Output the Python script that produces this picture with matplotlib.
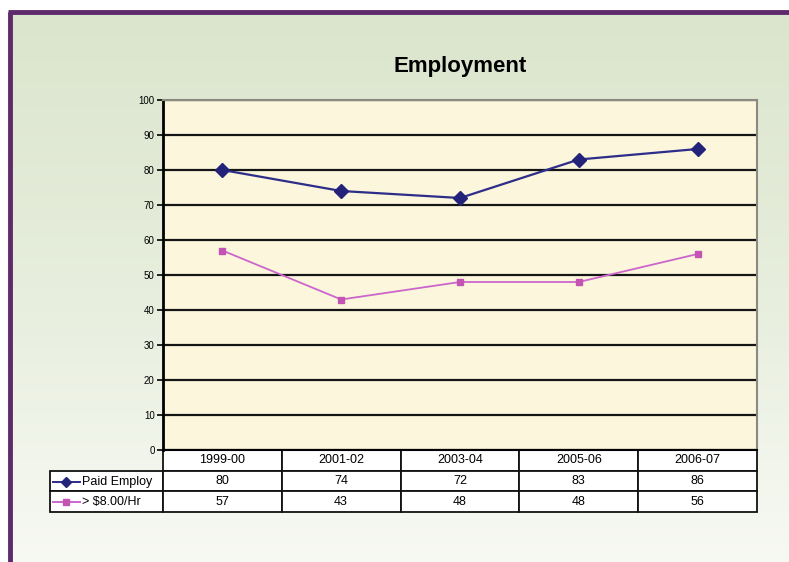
import numpy as np
import matplotlib
matplotlib.use("Agg")
import matplotlib.pyplot as plt
from matplotlib.colors import LinearSegmentedColormap

plt.rcParams['font.family'] = ['Liberation Sans', 'DejaVu Sans']

periods = ['1999-00', '2001-02', '2003-04', '2005-06', '2006-07']
paid_employ = [80, 74, 72, 83, 86]
over_8 = [57, 43, 48, 48, 56]
series_names = ['Paid Employ', '> $8.00/Hr']

W, H = 789, 562
fig = plt.figure(figsize=(W / 100, H / 100), dpi=100)
fig.patch.set_facecolor('white')

# background panel: green fading to white, purple frame on top/left
bg = fig.add_axes([0, 0, 1, 1], zorder=-5)
bg.set_xlim(0, W)
bg.set_ylim(H, 0)
bg.axis('off')
grad = np.linspace(0, 1, 256).reshape(-1, 1)
cmap = LinearSegmentedColormap.from_list('panel', ['#dbe5cd', '#e7eedd', '#f7f9f3'])
bg.imshow(grad, cmap=cmap, extent=[12, W, H, 14], aspect='auto')
bg.plot([10, 10], [12, H], color='#5e2a6b', lw=3.5, solid_capstyle='butt')
bg.plot([8, W], [12, 12], color='#5e2a6b', lw=3.5, solid_capstyle='butt')

ax = fig.add_axes([163 / W, 1 - 450 / H, 594 / W, 350 / H])
ax.set_facecolor('#fcf6dc')
x = np.arange(len(periods))
ax.plot(x, paid_employ, color='#2d2d8a', lw=1.6, marker='D', ms=7,
        mfc='#23237a', mec='#23237a', zorder=3)
ax.plot(x, over_8, color='#cc66cc', lw=1.3, marker='s', ms=4.5,
        mfc='#c454b4', mec='#c454b4', zorder=3)
ax.set_xlim(-0.5, len(periods) - 0.5)
ax.set_ylim(0, 100)
ax.set_yticks(range(0, 101, 10))
ax.set_xticks([])
ax.tick_params(axis='y', labelsize=7, length=4, width=1.2, direction='out', pad=2)
ax.grid(axis='y', color='#151515', lw=1.6)
ax.set_axisbelow(True)
for s in ['top', 'right']:
    ax.spines[s].set_color('#8a8a80')
    ax.spines[s].set_linewidth(1.5)
ax.spines['left'].set_linewidth(2)
ax.spines['bottom'].set_linewidth(1.5)

ax.set_title('Employment', fontsize=16, fontweight='bold', pad=20)

# data table under the plot
label_w = 113 / 594
tbl_h = 62 / 350
cell_text = [[''] + [str(v) for v in paid_employ],
             [''] + [str(v) for v in over_8]]
tbl = ax.table(cellText=cell_text, colLabels=[''] + periods,
               colWidths=[113 / 707] + [119 / 707] * 5,
               cellLoc='center',
               bbox=[-label_w, -tbl_h, 1 + label_w, tbl_h])
tbl.auto_set_font_size(False)
tbl.set_fontsize(9)
for (r, c), cell in tbl.get_celld().items():
    cell.set_linewidth(1.3)
    cell.set_edgecolor('#111111')
    cell.set_facecolor('white')
tbl[0, 0].visible_edges = ''
tbl[0, 0].set_facecolor('none')

# row labels with line/marker keys
row_y = [-32 / 350, -52 / 350]
styles = [('#2d2d8a', 'D', 5, '#23237a'), ('#cc66cc', 's', 4.5, '#c454b4')]
for name, yy, (lc, mk, ms, mc) in zip(series_names, row_y, styles):
    ax.plot([(53 - 163) / 594, (80 - 163) / 594], [yy, yy], transform=ax.transAxes,
            color=lc, lw=1.4, clip_on=False, zorder=5)
    ax.plot([(66 - 163) / 594], [yy], transform=ax.transAxes, marker=mk, ms=ms,
            color=mc, clip_on=False, zorder=6)
    ax.text((82 - 163) / 594, yy, name, transform=ax.transAxes, fontsize=9,
            ha='left', va='center', zorder=6)

fig.savefig('out.png', dpi=100)
